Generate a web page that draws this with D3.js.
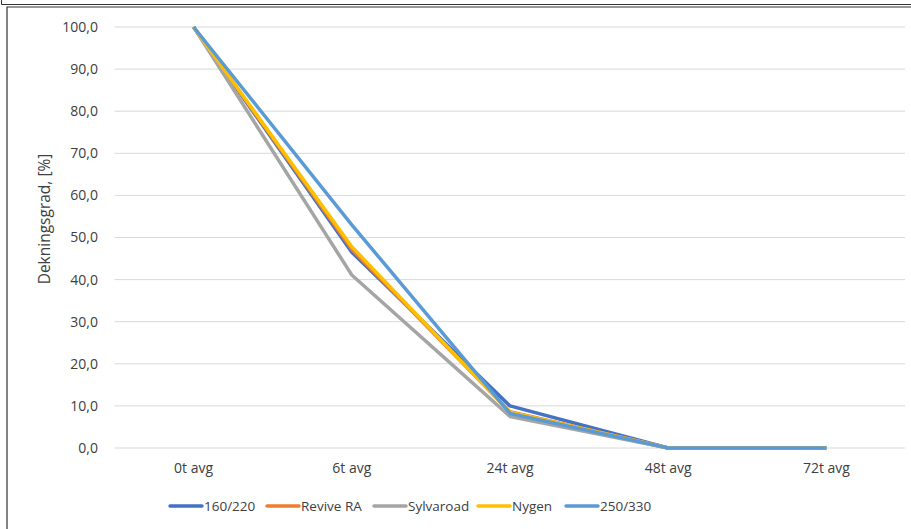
<!DOCTYPE html>
<html>
<head>
<meta charset="utf-8">
<script src="https://cdn.jsdelivr.net/npm/d3@7"></script>
<style>
  body { margin: 0; background: #fff; }
  svg { display: block; font-family: "Open Sans", "Liberation Sans", sans-serif; }
</style>
</head>
<body>
<div class="canvas"></div>
<script>
const categories = ['0t avg', '6t avg', '24t avg', '48t avg', '72t avg']
const yTicks = [0, 10, 20, 30, 40, 50, 60, 70, 80, 90, 100]
const seriesNames = ['160/220', 'Revive RA', 'Sylvaroad', 'Nygen', '250/330']
const colors = ['#4472C4', '#ED7D31', '#A5A5A5', '#FFC000', '#5B9BD5']
const v160 = [100, 46.5, 10.0, 0, 0]
const vRevive = [100, 47.2, 8.6, 0, 0]
const vSylva = [100, 41.1, 7.5, 0, 0]
const vNygen = [100, 47.8, 8.5, 0, 0]
const v250 = [100, 53.0, 8.2, 0, 0]
const allValues = [v160, vRevive, vSylva, vNygen, v250]

const width = 911, height = 529
const svg = d3.select('.canvas').append('svg')
    .attr('width', width)
    .attr('height', height)

// frames (cropped screenshot borders)
svg.append('path')
    .attr('d', 'M1.5 0 V4.5 H911')
    .attr('fill', 'none').attr('stroke', '#333').attr('stroke-width', 1)
svg.append('path')
    .attr('d', 'M7 529 V7 H911')
    .attr('fill', 'none').attr('stroke', '#333').attr('stroke-width', 1.2)

const x = d3.scalePoint().domain(categories).range([114.5, 905.5]).padding(0.5)
const y = d3.scaleLinear().domain([0, 100]).range([448, 27])

// gridlines
svg.append('g').selectAll('line').data(yTicks).join('line')
    .attr('x1', 114.5).attr('x2', 905)
    .attr('y1', d => y(d)).attr('y2', d => y(d))
    .attr('stroke', '#d9d9d9').attr('stroke-width', 1)

// y tick labels
svg.append('g').selectAll('text').data(yTicks).join('text')
    .attr('x', 98).attr('y', d => y(d))
    .attr('dy', '0.35em')
    .attr('text-anchor', 'end')
    .attr('font-size', 14)
    .attr('fill', '#404040')
    .text(d => d3.format('.1f')(d).replace('.', ','))

// x labels
svg.append('g').selectAll('text').data(categories).join('text')
    .attr('x', d => x(d)).attr('y', 473)
    .attr('text-anchor', 'middle')
    .attr('font-size', 14)
    .attr('fill', '#404040')
    .text(d => d)

// axis title
svg.append('text')
    .attr('transform', 'translate(50,219) rotate(-90)')
    .attr('text-anchor', 'middle')
    .attr('font-size', 15.5)
    .attr('fill', '#404040')
    .text('Dekningsgrad, [%]')

const line = d3.line()
    .x((d, i) => x(categories[i]))
    .y(d => y(d))

svg.append('g').selectAll('path').data(allValues).join('path')
    .attr('d', d => line(d))
    .attr('fill', 'none')
    .attr('stroke', (d, i) => colors[i])
    .attr('stroke-width', 3.5)
    .attr('stroke-linejoin', 'round')

// legend
const legX = [170, 267, 374, 478, 566]
const leg = svg.append('g').selectAll('g').data(seriesNames).join('g')
    .attr('transform', (d, i) => `translate(${legX[i]},506)`)
leg.append('line')
    .attr('x1', 0).attr('x2', 32)
    .attr('stroke', (d, i) => colors[i])
    .attr('stroke-width', 3.5)
    .attr('stroke-linecap', 'round')
leg.append('text')
    .attr('x', 34).attr('dy', '0.35em')
    .attr('font-size', 13.5)
    .attr('fill', '#404040')
    .text(d => d)
</script>
</body>
</html>
